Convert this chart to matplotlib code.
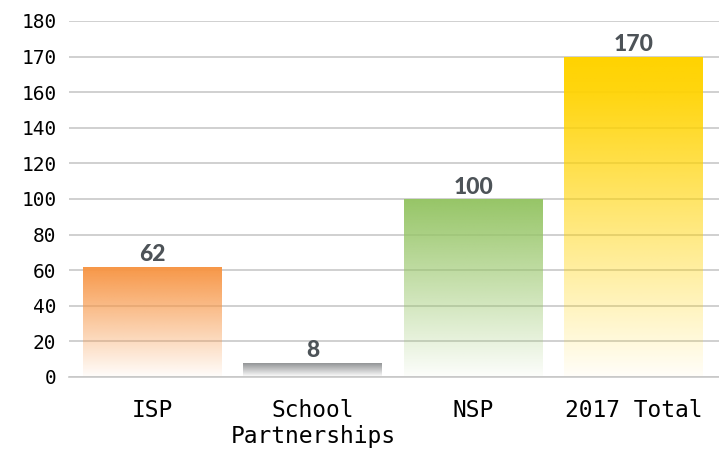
import numpy as np
import matplotlib
matplotlib.use("Agg")
import matplotlib.pyplot as plt
from matplotlib.patches import Rectangle

categories = ["ISP", "School\nPartnerships", "NSP", "2017 Total"]
values = [62, 8, 100, 170]
labels = ["62", "8", "100", "170"]
colors = ["#f79646", "#8c8e90", "#96c566", "#ffd300"]
yticks = [0, 20, 40, 60, 80, 100, 120, 140, 160, 170, 180]


# axis is linear to 160, then each 10 takes the room of 20
def forward(y):
    y = np.asarray(y, dtype=float)
    return np.where(y <= 160, y, 160 + 2 * (y - 160))


def inverse(t):
    t = np.asarray(t, dtype=float)
    return np.where(t <= 160, t, 160 + (t - 160) / 2)


fig = plt.figure(figsize=(7.19, 4.55), dpi=100)
ax = fig.add_axes([69 / 719, 78 / 455, 650 / 719, 356 / 455])
ax.set_yscale("function", functions=(forward, inverse))
ax.set_ylim(0, 180)
ax.set_xlim(-0.52, 3.53)

ax.set_yticks(yticks)
ax.set_yticklabels([str(t) for t in yticks])
ax.yaxis.grid(True, color="#c8c8c8", linewidth=1.2)
ax.set_axisbelow(True)

width = 0.87
bars = ax.bar(range(len(values)), values, width=width, color="none", zorder=2)
for rect, col, lab in zip(bars, colors, labels):
    x0 = rect.get_x()
    h = rect.get_height()
    rgb = matplotlib.colors.to_rgb(col)
    n = 256
    grad = np.zeros((n, 1, 4))
    grad[:, 0, :3] = rgb
    grad[:, 0, 3] = np.linspace(0.03, 1.0, n)
    im = ax.imshow(grad, extent=[x0, x0 + width, 0, h], origin="lower",
                   aspect="auto", interpolation="bilinear", zorder=2)
    clip = Rectangle((x0, 0), width, h, transform=ax.transData)
    im.set_clip_path(clip)
    ax.annotate(lab, (x0 + width / 2, h), xytext=(0, 1),
                textcoords="offset points", ha="center", va="bottom",
                fontsize=16.5, fontweight="black", color="#4d5358",
                family="Lato")

ax.set_xticks(range(len(categories)))
ax.set_xticklabels(categories, fontsize=16.5, family="DejaVu Sans Mono",
                   linespacing=1.15)
for t in ax.get_yticklabels():
    t.set_fontsize(14)
    t.set_family("DejaVu Sans Mono")

ax.tick_params(axis="x", length=0, pad=16, colors="black")
ax.tick_params(axis="y", length=0, pad=9, colors="black")
for side in ["top", "right", "left"]:
    ax.spines[side].set_visible(False)
ax.spines["bottom"].set_color("#c8c8c8")
ax.spines["bottom"].set_linewidth(1.2)

fig.savefig("out.png", dpi=100)
